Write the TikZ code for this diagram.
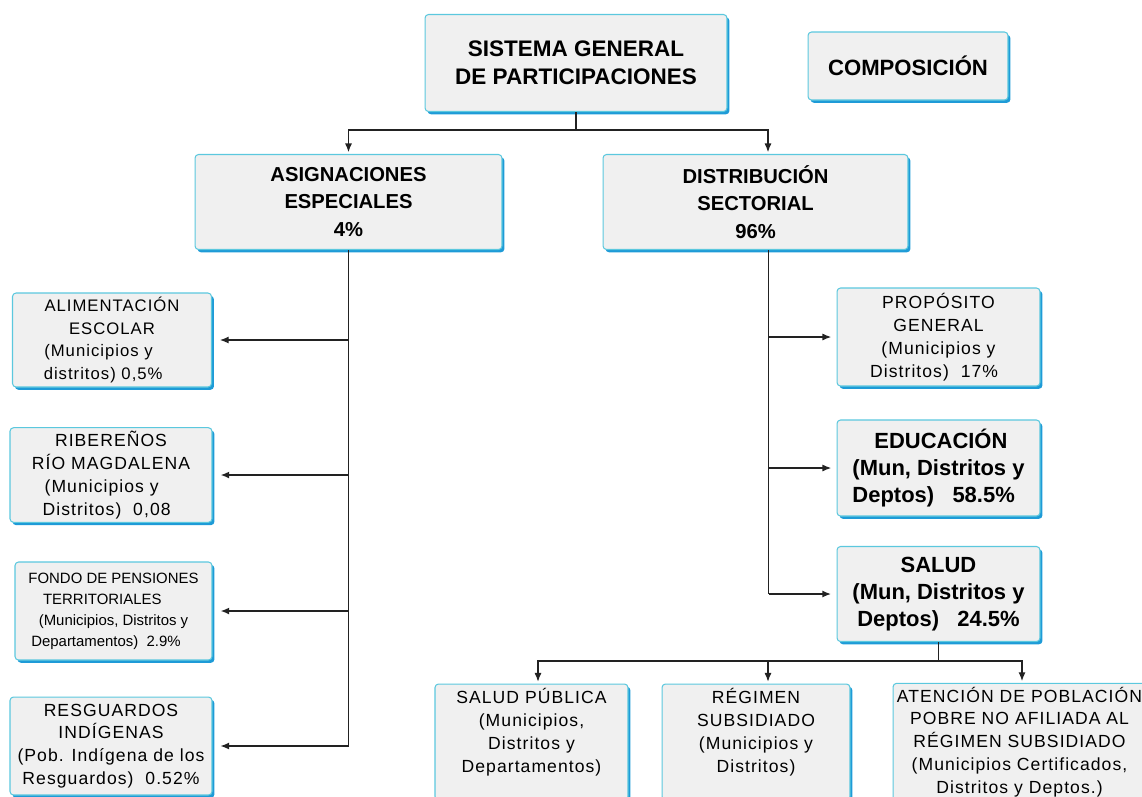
\documentclass[tikz,border=0pt]{standalone}
\usepackage{fontspec}
\setmainfont{Liberation Sans}
\newfontfamily\cajafont{Liberation Sans}[LetterSpace=6]
\usetikzlibrary{arrows.meta,calc,shadows}
\definecolor{cajafondo}{HTML}{F0F0F0}
\definecolor{cajaborde}{HTML}{5BC8DE}
\definecolor{cajasombra}{HTML}{1E9BD7}
\definecolor{linea}{HTML}{222222}

\begin{document}
\begin{tikzpicture}[x=0.02cm, y=-0.02cm,
    % #1 ancho  #2 alto (en cm)
    tam/.style 2 args={minimum width=#1cm, minimum height=#2cm},
    caja/.style={draw=cajaborde, line width=0.6pt, fill=cajafondo, rounded corners=2pt,
      drop shadow={shadow xshift=1.4pt, shadow yshift=-1.6pt, fill=cajasombra, opacity=1},
      inner sep=2pt, align=center, text=black},
    grande/.style={caja, font=\bfseries\fontsize{11.5}{15.5}\selectfont},
    chica/.style={caja, font=\cajafont\fontsize{10}{13}\selectfont},
    conector/.style={draw=linea, line width=0.7pt},
    flecha/.style={conector, -{Latex[length=5pt,width=4pt]}, shorten >=1pt},
    gruesa/.style={line width=1.6pt}]
  \useasboundingbox (0,0) rectangle (1142,796);

  % nivel superior
  \node[grande, tam={6.04}{1.94}, font=\bfseries\fontsize{12.8}{16}\selectfont] (sgp) at (576,63) {SISTEMA GENERAL\\DE PARTICIPACIONES};
  \node[grande, tam={4.0}{1.36}, font=\bfseries\fontsize{12.6}{14}\selectfont] (comp) at (908,66) {COMPOSICIÓN};
  \node[grande, tam={6.14}{1.9}] (asig) at (348.5,202) {ASIGNACIONES\\ESPECIALES\\4\%};
  \node[grande, tam={6.1}{1.9}] (dist) at (755.5,202) {DISTRIBUCIÓN\\SECTORIAL\\96\%};

  % asignaciones especiales
  \node[chica, tam={3.98}{1.88}, font=\cajafont\fontsize{9.5}{13}\selectfont] (alim) at (112,340) {ALIMENTACIÓN\\ESCOLAR\\(Municipios y\phantom{xxx}\\distritos) 0,5\%\phantom{xx}};
  \node[chica, tam={4.04}{1.88}] (ribe) at (111,475) {RIBEREÑOS\\RÍO MAGDALENA\\(Municipios y\phantom{xx}\\Distritos)\ \ 0,08\phantom{x}};
  \node[chica, tam={3.94}{1.96}, font=\fontsize{8.5}{12}\selectfont] (fondo) at (113.5,611) {FONDO DE PENSIONES\\TERRITORIALES\phantom{xxx}\\(Municipios, Distritos y\\Departamentos)\ \ 2.9\%\phantom{xx}};
  \node[chica, tam={4.04}{1.96}] (resg) at (111,746) {RESGUARDOS\\INDÍGENAS\\(Pob. Indígena de los\\Resguardos)\ \ 0.52\%};

  % distribucion sectorial
  \node[chica, tam={4.06}{1.96}] (prop) at (938.5,337) {PROPÓSITO\\GENERAL\\(Municipios y\\Distritos)\ \ 17\%\phantom{x}};
  \node[grande, tam={4.06}{1.92}, align=left, font=\bfseries\fontsize{12.5}{15.5}\selectfont] (educ) at (938.5,468) {\quad EDUCACIÓN\\(Mun, Distritos y\\Deptos)\ \ \ 58.5\%};
  \node[grande, tam={4.06}{1.9}, font=\bfseries\fontsize{12.5}{15.5}\selectfont] (salud) at (938.5,594) {SALUD\\(Mun, Distritos y\\Deptos)\ \ \ 24.5\%};

  % salud
  \node[chica, tam={3.86}{2.32}] (sp) at (531.5,742) {SALUD PÚBLICA\\(Municipios,\\Distritos y\\Departamentos)\\ };
  \node[chica, tam={3.76}{2.32}] (reg) at (756,742) {RÉGIMEN\\SUBSIDIADO\\(Municipios y\\Distritos)\\ };
  \node[chica, tam={5.06}{2.32}] (aten) at (1019.5,742) {ATENCIÓN DE POBLACIÓN\\POBRE NO AFILIADA AL\\RÉGIMEN SUBSIDIADO\\(Municipios Certificados,\\Distritos y Deptos.)};

  % conectores
  \draw[conector] (sgp.south) -- ++(0,18) coordinate (t1);
  \draw[flecha] (t1) -| (asig.north);
  \draw[flecha] (t1) -| ($(dist.north)+(12.5,0)$);

  \draw[conector] (asig.south) -- (asig.south |- resg.east);
  \draw[flecha, shorten >=4.5pt] (asig.south |- alim.east) -- (alim.east);
  \draw[flecha, shorten >=4.5pt, gruesa] (asig.south |- ribe.east) -- (ribe.east);
  \draw[flecha, shorten >=4.5pt, gruesa] (asig.south |- fondo.east) -- (fondo.east);
  \draw[flecha, shorten >=4.5pt] (asig.south |- resg.east) -- (resg.east);

  \draw[conector] ($(dist.south)+(13,0)$) coordinate (t2) -- (t2 |- salud.west);
  \draw[flecha, shorten >=3pt] (t2 |- prop.west) -- (prop.west);
  \draw[flecha, shorten >=3pt] (t2 |- educ.west) -- (educ.west);
  \draw[flecha, shorten >=3pt, gruesa] (t2 |- salud.west) -- (salud.west);

  \draw[conector] (salud.south) -- ++(0,19) coordinate (t3);
  \draw[flecha] (t3) -| ($(sp.north)+(6.5,0)$);
  \draw[flecha] (t3) -| ($(reg.north)+(12,0)$);
  \draw[flecha] (t3) -| ($(aten.north)+(2.5,0)$);
\end{tikzpicture}
\end{document}
